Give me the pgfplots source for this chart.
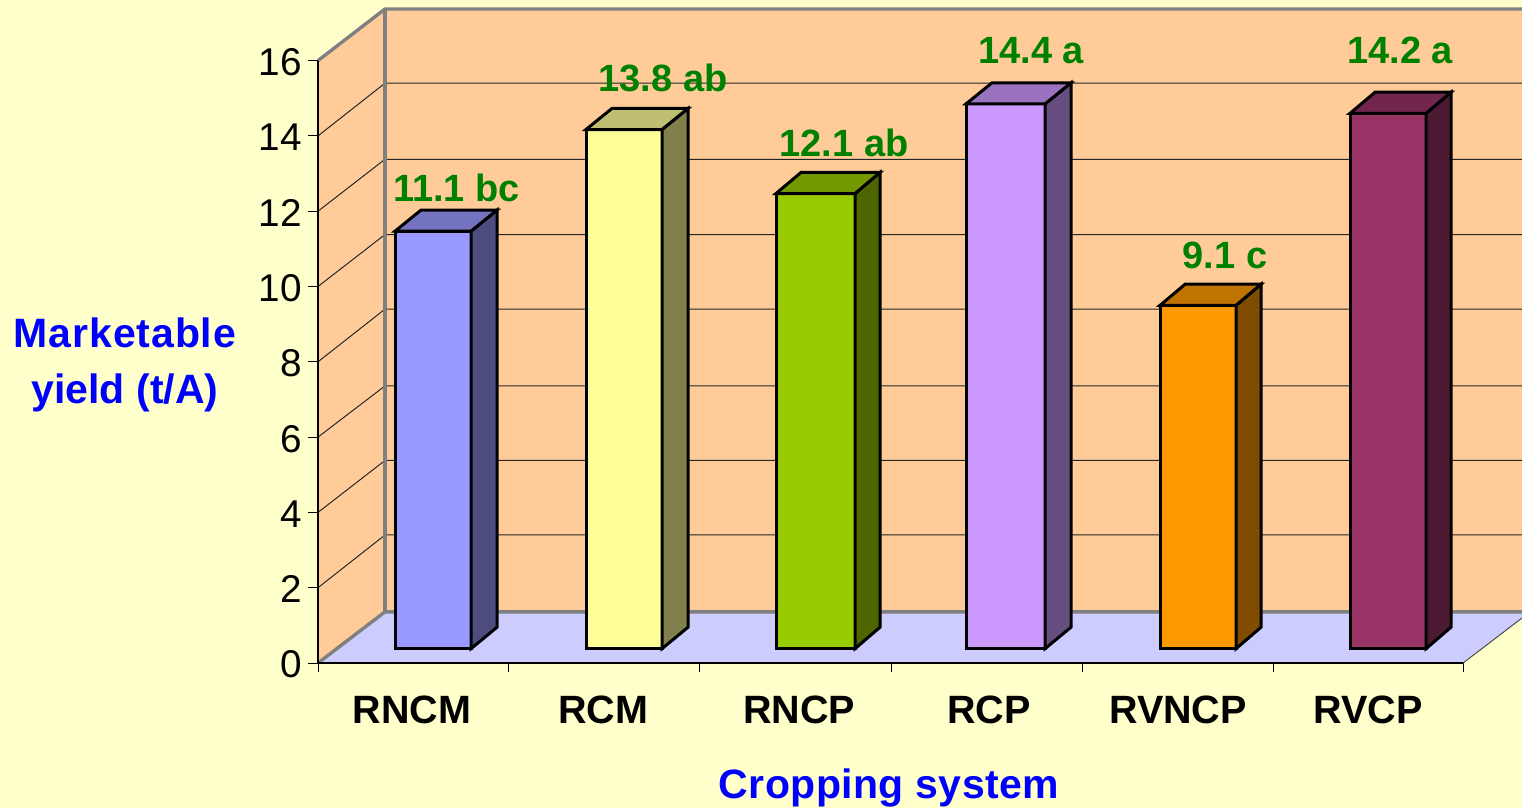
\documentclass[border=0pt]{standalone}
\usepackage{fontspec}
\setmainfont{Liberation Sans}
\usepackage{pgfplots}
\pgfplotsset{compat=1.18}
\definecolor{bg}{HTML}{FFFFCC}
\definecolor{wall}{HTML}{FFCC99}
\definecolor{floorc}{HTML}{CCCCFF}
\definecolor{edge}{HTML}{808080}
\definecolor{grn}{HTML}{008000}
\definecolor{blu}{HTML}{0000FF}
\definecolor{aF}{HTML}{9999FF}\definecolor{aS}{HTML}{4D4D80}\definecolor{aT}{HTML}{7373BF}
\definecolor{bF}{HTML}{FFFF99}\definecolor{bS}{HTML}{80804D}\definecolor{bT}{HTML}{BFBF73}
\definecolor{cF}{HTML}{99CC00}\definecolor{cS}{HTML}{4D6600}\definecolor{cT}{HTML}{739900}
\definecolor{dF}{HTML}{CC99FF}\definecolor{dS}{HTML}{664D80}\definecolor{dT}{HTML}{9973BF}
\definecolor{eF}{HTML}{FF9900}\definecolor{eS}{HTML}{804D00}\definecolor{eT}{HTML}{BF7300}
\definecolor{fF}{HTML}{993366}\definecolor{fS}{HTML}{4D1A33}\definecolor{fT}{HTML}{73264D}
\newcommand{\vlab}[3]{\node[anchor=base,text=grn,font=\fontsize{38}{40}\selectfont\bfseries] at (axis cs:#1,#2) {#3};}
\pgfplotsset{
  barstyle/.style={draw=black,line width=3pt,line join=miter,mark=none,forget plot},
  gridst/.style={draw=black!85,line width=1pt,mark=none,forget plot},
  edgest/.style={draw=edge,line width=3.4pt,mark=none,forget plot},
}
\begin{document}
\begin{tikzpicture}
\begin{axis}[
  width=1522pt,height=808pt,scale only axis,
  xmin=-318,xmax=1204,ymin=-3.851,ymax=17.61,
  axis x line=middle,axis y line=middle,
  hide obscured x ticks=false,hide obscured y ticks=false,
  axis line style={draw=none},
  axis background/.style={fill=bg},
  tick align=outside,
  major tick length=10pt,minor tick length=9pt,
  ytick={0,2,...,16},
  xtick={94,285,481,671,860,1050},
  xticklabels={RNCM,RCM,RNCP,RCP,RVNCP,RVCP},
  minor xtick={0,190,381,573,764,955,1145},
  major x tick style={draw=none},
  minor x tick style={draw=black,line width=1pt},
  major y tick style={draw=black,line width=1pt},
  /pgf/number format/assume math mode=true,
  y tick label style={font=\fontsize{38.7}{40}\selectfont,anchor=east,xshift=-2.5pt,yshift=-1.6pt},
  x tick label style={font=\fontsize{39.5}{40}\selectfont\bfseries,anchor=base,yshift=-50pt},
  xlabel={\addfontfeature{LetterSpace=1}Cropping system},
  ylabel={\addfontfeature{LetterSpace=2.2}Marketable\\yield (t/A)},
  every axis x label/.style={at={(axis description cs:0.5841,0.0245)},anchor=center,text=blu,font=\fontsize{41}{46}\selectfont\bfseries},
  every axis y label/.style={at={(axis description cs:0.0821,0.548)},anchor=center,align=center,text=blu,font=\fontsize{41}{56}\selectfont\bfseries},
]
% walls and floor
\addplot[fill=wall,draw=none,forget plot] coordinates {(67,1.36)(67,17.37)(1204,17.37)(1204,1.36)} --cycle;
\addplot[fill=wall,draw=none,forget plot] coordinates {(0,0)(0,16)(67,17.37)(67,1.36)} --cycle;
\addplot[fill=floorc,draw=none,forget plot] coordinates {(0,0)(67,1.36)(1204,1.36)(1204,1.195)(1145,0)} --cycle;
% grid
\addplot[gridst] coordinates {(0,2)(67,3.40)(1204,3.40)};
\addplot[gridst] coordinates {(0,4)(67,5.38)(1204,5.38)};
\addplot[gridst] coordinates {(0,6)(67,7.36)(1204,7.36)};
\addplot[gridst] coordinates {(0,8)(67,9.40)(1204,9.40)};
\addplot[gridst] coordinates {(0,10)(67,11.38)(1204,11.38)};
\addplot[gridst] coordinates {(0,12)(67,13.38)(1204,13.38)};
\addplot[gridst] coordinates {(0,14)(67,15.40)(1204,15.40)};
% edges
\addplot[edgest] coordinates {(0,16)(67,17.37)(1204,17.37)};
\addplot[edgest] coordinates {(67,17.37)(67,1.36)};
\addplot[edgest] coordinates {(0,0)(67,1.36)(1204,1.36)};
\addplot[draw=black!70,line width=1pt,mark=none,forget plot] coordinates {(1145,0)(1204,1.195)};
% axis lines
\addplot[draw=black,line width=1.3pt,mark=none,forget plot] coordinates {(0,16)(0,0)(1145,0)};
% bars: front, side, top
\addplot[barstyle,fill=aF] coordinates {(77,0.38)(153,0.38)(153,11.47)(77,11.47)} --cycle;
\addplot[barstyle,fill=aS] coordinates {(153,0.38)(179,0.95)(179,12.03)(153,11.47)} --cycle;
\addplot[barstyle,fill=aT] coordinates {(77,11.47)(153,11.47)(179,12.03)(103,12.03)} --cycle;
\addplot[barstyle,fill=bF] coordinates {(268,0.38)(344,0.38)(344,14.17)(268,14.17)} --cycle;
\addplot[barstyle,fill=bS] coordinates {(344,0.38)(370,0.95)(370,14.73)(344,14.17)} --cycle;
\addplot[barstyle,fill=bT] coordinates {(268,14.17)(344,14.17)(370,14.73)(294,14.73)} --cycle;
\addplot[barstyle,fill=cF] coordinates {(458,0.38)(537,0.38)(537,12.47)(458,12.47)} --cycle;
\addplot[barstyle,fill=cS] coordinates {(537,0.38)(562,0.95)(562,13.03)(537,12.47)} --cycle;
\addplot[barstyle,fill=cT] coordinates {(458,12.47)(537,12.47)(562,13.03)(483,13.03)} --cycle;
\addplot[barstyle,fill=dF] coordinates {(648,0.38)(727,0.38)(727,14.85)(648,14.85)} --cycle;
\addplot[barstyle,fill=dS] coordinates {(727,0.38)(753,0.95)(753,15.41)(727,14.85)} --cycle;
\addplot[barstyle,fill=dT] coordinates {(648,14.85)(727,14.85)(753,15.41)(674,15.41)} --cycle;
\addplot[barstyle,fill=eF] coordinates {(842,0.38)(918,0.38)(918,9.50)(842,9.50)} --cycle;
\addplot[barstyle,fill=eS] coordinates {(918,0.38)(943,0.95)(943,10.06)(918,9.50)} --cycle;
\addplot[barstyle,fill=eT] coordinates {(842,9.50)(918,9.50)(943,10.06)(867,10.06)} --cycle;
\addplot[barstyle,fill=fF] coordinates {(1032,0.38)(1108,0.38)(1108,14.60)(1032,14.60)} --cycle;
\addplot[barstyle,fill=fS] coordinates {(1108,0.38)(1133,0.95)(1133,15.16)(1108,14.60)} --cycle;
\addplot[barstyle,fill=fT] coordinates {(1032,14.60)(1108,14.60)(1133,15.16)(1057,15.16)} --cycle;
% value labels
\vlab{138.5}{12.27}{11.1 bc}
\vlab{345}{15.17}{13.8 ab}
\vlab{526}{13.44}{12.1 ab}
\vlab{713}{15.91}{14.4 a}
\vlab{907}{10.48}{9.1 c}
\vlab{1082}{15.91}{14.2 a}
\end{axis}
\end{tikzpicture}
\end{document}
